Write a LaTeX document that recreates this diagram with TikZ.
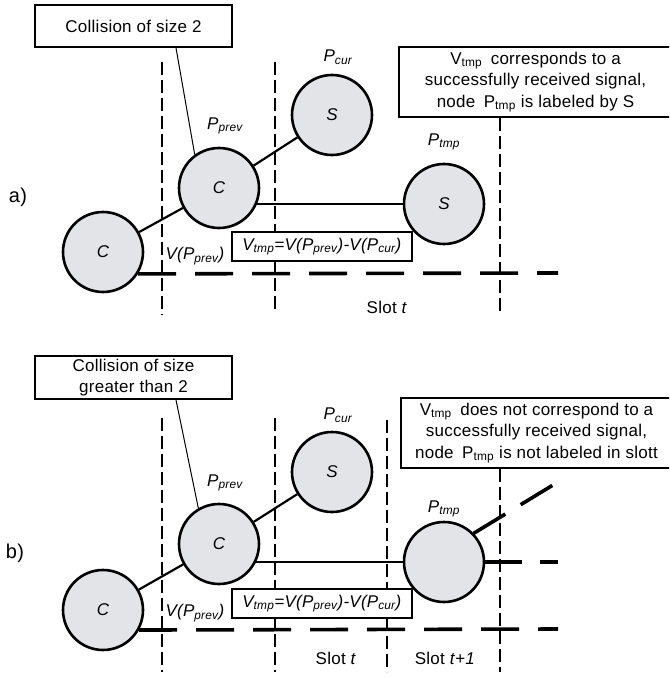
\documentclass[tikz,border=0pt]{standalone}
\usepackage{fontspec}
\setmainfont{Liberation Sans}[LetterSpace=1.5]
\usetikzlibrary{backgrounds}
\definecolor{cfill}{RGB}{226,228,232}
\newcommand\sbs[1]{\textsubscript{#1}}
\newcommand\fs{\fontsize{17}{21.5}\selectfont}
\begin{document}
\begin{tikzpicture}[x=1pt,y=-1pt,
  circ/.style={circle, draw, line width=2.6pt, fill=cfill, minimum size=80pt, inner sep=0pt, font=\fs\itshape},
  box/.style={draw, line width=1.8pt, fill=white, inner sep=0pt, align=center, font=\fs},
  lbl/.style={inner sep=0pt, font=\fs},
  vdash/.style={line width=2.6pt, dash pattern=on 13pt off 5pt},
  hdash/.style={line width=3.6pt, dash pattern=on 38pt off 19pt},
  hdashb/.style={line width=3.6pt, dash pattern=on 37pt off 18pt},
  edge/.style={line width=2.2pt},
  hline/.style={line width=1.6pt},
  leader/.style={line width=1pt}]
\useasboundingbox (0,0) rectangle (669,677);
\clip (0,0) rectangle (669,677);
% ---------------- panel a
\node[lbl, font=\fontsize{20}{20}\selectfont] (labA) at (18,197) {a)};
\node[circ] (leftA) at (103,252) {C};
\node[circ] (prevA) at (219,188) {C};
\node[circ] (curA) at (332,115) {S};
\node[circ] (tmpA) at (444,204) {S};
\node[lbl] (pcurA) at (338,57) {\textit{P\sbs{cur}}};
\node[lbl] (pprevA) at (225,126) {\textit{P\sbs{prev}}};
\node[lbl] (ptmpA) at (444,142) {\textit{P\sbs{tmp}}};
\node[lbl] (vprevA) at (195,256) {\textit{V(P\sbs{prev})}};
\node[lbl] (slotA) at (387,307) {Slot \textit{t}};
\node[box, minimum width=197pt, minimum height=42pt] (colA) at (133.5,26) {Collision of size 2};
\node[box, minimum width=180pt, minimum height=29pt] (fA) at (322,246.5) {\textit{V\sbs{tmp}=V(P\sbs{prev})-V(P\sbs{cur})}};
\node[box, minimum width=273pt, minimum height=70pt] (infoA) at (535.5,82) {V\sbs{tmp}\enspace corresponds to a\\successfully received signal,\\node\enspace P\sbs{tmp} is labeled by S};
\coordinate (va1t) at (162,62); \coordinate (va1b) at (162,315);
\coordinate (va2t) at (275,62); \coordinate (va2b) at (275,312);
\coordinate (va3b) at (500,315);
\coordinate (haEnd) at (558,273);
\draw[leader] ([xshift=42.5pt]colA.south) -- (prevA.126);
% ---------------- panel b
\node[lbl, font=\fontsize{20}{20}\selectfont] (labB) at (15,553) {b)};
\node[circ] (leftB) at (103,610) {C};
\node[circ] (prevB) at (219,544) {C};
\node[circ] (curB) at (332,472) {S};
\node[circ] (tmpB) at (444,562) {};
\node[lbl] (pcurB) at (338,415) {\textit{P\sbs{cur}}};
\node[lbl] (pprevB) at (225,483) {\textit{P\sbs{prev}}};
\node[lbl] (ptmpB) at (444,509) {\textit{P\sbs{tmp}}};
\node[lbl] (vprevB) at (195,613) {\textit{V(P\sbs{prev})}};
\node[lbl] (slotB) at (336,658) {Slot \textit{t}};
\node[lbl] (slotB2) at (445,658) {Slot \textit{t}+\textit{1}};
\node[box, minimum width=197pt, minimum height=43pt] (colB) at (133.5,377.5) {Collision of size\\greater than 2};
\node[box, minimum width=180pt, minimum height=29pt] (fB) at (322,603.5) {\textit{V\sbs{tmp}=V(P\sbs{prev})-V(P\sbs{cur})}};
\node[box, minimum width=271pt, minimum height=70pt] (infoB) at (536.5,433) {V\sbs{tmp}\enspace does not correspond to a\\successfully received signal,\\node\enspace P\sbs{tmp} is not labeled in slott};
\coordinate (vb1t) at (162,418); \coordinate (vb1b) at (162,672);
\coordinate (vb2t) at (275,418); \coordinate (vb2b) at (275,672);
\coordinate (vb3t) at (387,420); \coordinate (vb3b) at (387,672);
\coordinate (vb4b) at (500,672);
\coordinate (hbEnd) at (558,629);
\coordinate (hbEnd2) at (558,562);
\coordinate (diagB) at (553,485);
\draw[leader] ([xshift=42.5pt]colB.south) -- (prevB.120);
% ---------------- lines below the nodes
\begin{pgfonlayer}{background}
\draw[vdash] (va1t) -- (va1b);
\draw[vdash] (va2t) -- (va2b);
\draw[vdash] (infoA.south -| va3b) -- (va3b);
\draw[hdash] (leftA.-32) -- (haEnd);
\draw[edge] (leftA) -- (prevA);
\draw[edge] (prevA) -- (curA);
\draw[hline] (tmpA.west) -- (tmpA.west -| prevA.center);
\draw[vdash] (vb1t) -- (vb1b);
\draw[vdash] (vb2t) -- (vb2b);
\draw[vdash] (vb3t) -- (vb3b);
\draw[vdash] (infoB.south -| vb4b) -- (vb4b);
\draw[hdash] (leftB.-29) -- (hbEnd);
\draw[edge] (leftB) -- (prevB);
\draw[edge] (prevB) -- (curB);
\draw[hline] (tmpB.west) -- (tmpB.west -| prevB.center);
\draw[hdashb] (tmpB.east) -- (hbEnd2);
\draw[hdashb] (tmpB.44) -- (diagB);
\end{pgfonlayer}
\end{tikzpicture}
\end{document}
